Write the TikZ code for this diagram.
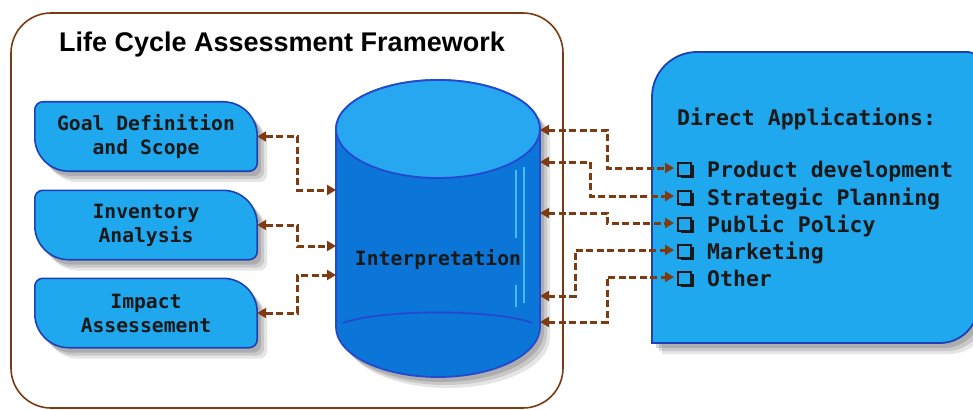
\documentclass[tikz,border=0pt]{standalone}
\usepackage{fontspec}
\setmainfont{Liberation Sans}
\newfontfamily\mono{DejaVu Sans Mono}
\usetikzlibrary{arrows.meta,shadows,calc}
\definecolor{boxfill}{HTML}{20A8EE}
\definecolor{boxline}{HTML}{1F3FB5}
\definecolor{cylbody}{HTML}{0B76D8}
\definecolor{cyltop}{HTML}{27A7EF}
\definecolor{cylline}{HTML}{2448D0}
\definecolor{conncol}{HTML}{7E3A10}
\definecolor{framecol}{HTML}{7A3A12}
\definecolor{hilite}{HTML}{45BDF7}
\tikzset{
  myshadow/.style={
    drop shadow={opacity=0.14,shadow xshift=10pt,shadow yshift=-11pt,fill=black!70},
    drop shadow={opacity=0.18,shadow xshift=7pt,shadow yshift=-8pt,fill=black!70},
    drop shadow={opacity=0.22,shadow xshift=4pt,shadow yshift=-5pt,fill=black!70}},
  lbox/.style={minimum width=222pt,minimum height=69pt,inner sep=0pt,align=center,
    font=\mono\bfseries\fontsize{19.7}{24}\selectfont,text=black!90},
  lshape/.style={fill=boxfill,draw=boxline,line width=1.6pt,myshadow},
  conn/.style={draw=conncol,line width=3pt,dash pattern=on 7pt off 3.5pt,
    {Triangle[length=9pt,width=10pt]}-{Triangle[length=9pt,width=10pt]}},
  item/.style={anchor=west,inner sep=0pt,text height=18pt,text depth=0pt,
    font=\mono\bfseries\fontsize{21.5}{26}\selectfont,text=black!90},
}
\newcommand{\lboxshape}[1]{%
  \path[lshape] ($(#1.north west)+(0,-8)$) arc[start angle=180,end angle=90,radius=8]
    -- ($(#1.north east)+(-34,0)$) arc[start angle=90,end angle=0,radius=34]
    -- ($(#1.south east)+(0,8)$) arc[start angle=0,end angle=-90,radius=8]
    -- ($(#1.south west)+(34,0)$) arc[start angle=-90,end angle=-180,radius=34]
    -- cycle;}
\newcommand{\chk}{\makebox[30pt][l]{\tikz[baseline=0pt,x=1pt,y=1pt]{%
  \fill[black!90] (3.5,-1) rectangle (16.5,12);
  \draw[black!90,line width=2pt,fill=boxfill] (1,1) rectangle (14,14);}}}
\begin{document}
\begin{tikzpicture}[x=1pt,y=1pt]
\useasboundingbox (0,0) rectangle (973,-409);
\fill[white] (0,0) rectangle (973,-409);
% outer frame
\draw[framecol,line width=1.6pt,rounded corners=40pt] (11,-13) rectangle (563,-408);
\node[font=\bfseries\fontsize{27}{30}\selectfont] (title) at (282,-45) {Life Cycle Assessment Framework};
% left boxes
\node[lbox] (goal) at (146,-136.5) {};
\node[lbox] (inv) at (146,-225) {};
\node[lbox] (imp) at (146,-313) {};
\lboxshape{goal}
\lboxshape{inv}
\lboxshape{imp}
\node[lbox] at (goal) {Goal Definition\\and Scope};
\node[lbox] at (inv) {Inventory\\Analysis};
\node[lbox] at (imp) {Impact\\Assessement};
% cylinder
\path[fill=cylbody,draw=cylline,line width=1.8pt,myshadow]
  (336,-129) -- (336,-327) arc[start angle=180,end angle=360,x radius=102,y radius=50]
  -- (540,-129) arc[start angle=0,end angle=180,x radius=102,y radius=49] -- cycle;
\draw[fill=cyltop,draw=cylline,line width=1.8pt] (438,-129) ellipse[x radius=102,y radius=49];
\draw[cylline,line width=1.8pt] (343,-323) .. controls (380,-309) and (496,-309) .. (532,-323);
\draw[hilite,line width=2pt] (516,-170) -- (516,-238);
\draw[hilite,line width=2pt] (516,-285) -- (516,-307);
\draw[hilite,line width=2pt] (524,-167) -- (524,-303);
\node[font=\mono\bfseries\fontsize{19.7}{24}\selectfont,text=black!90] (cyl) at (438,-260) {Interpretation};
\coordinate (cL1) at (336,-190);
\coordinate (cL2) at (336,-246);
\coordinate (cL3) at (336,-275);
\coordinate (cR1) at (540,-130);
\coordinate (cR2) at (540,-162);
\coordinate (cR3) at (540,-213);
\coordinate (cR4) at (540,-296);
\coordinate (cR5) at (540,-322);
% right box
\path[fill=boxfill,draw=boxline,line width=1.8pt,myshadow]
  (652,-343) -- (652,-97) arc[start angle=180,end angle=90,radius=45]
  -- (968,-52) arc[start angle=90,end angle=0,radius=10]
  -- (978,-305) arc[start angle=0,end angle=-90,radius=38] -- cycle;
\node[anchor=base west,inner sep=0pt,font=\mono\bfseries\fontsize{21.5}{26}\selectfont,text=black!90] (da) at (677,-125) {Direct Applications:};
\node[item] (i1) at (677,-168) {\chk Product development};
\node[item] (i2) at (677,-196) {\chk Strategic Planning};
\node[item] (i3) at (677,-223) {\chk Public Policy};
\node[item] (i4) at (677,-250) {\chk Marketing};
\node[item] (i5) at (677,-277) {\chk Other};
% connectors
\draw[conn] (goal.east) -- ++(40,0) |- (cL1);
\draw[conn] (inv.east) -- ++(40,0) |- (cL2);
\draw[conn] (imp.east) -- ++(40,0) |- (cL3);
\draw[conn] (cR1) -- ++(67,0) |- ([xshift=-3pt]i1.west);
\draw[conn] (cR2) -- ++(50,0) |- ([xshift=-3pt]i2.west);
\draw[conn] (cR3) -- ++(67,0) |- ([xshift=-3pt]i3.west);
\draw[conn] (cR4) -- ++(35,0) |- ([xshift=-3pt]i4.west);
\draw[conn] (cR5) -- ++(67,0) |- ([xshift=-3pt]i5.west);
\end{tikzpicture}
\end{document}
